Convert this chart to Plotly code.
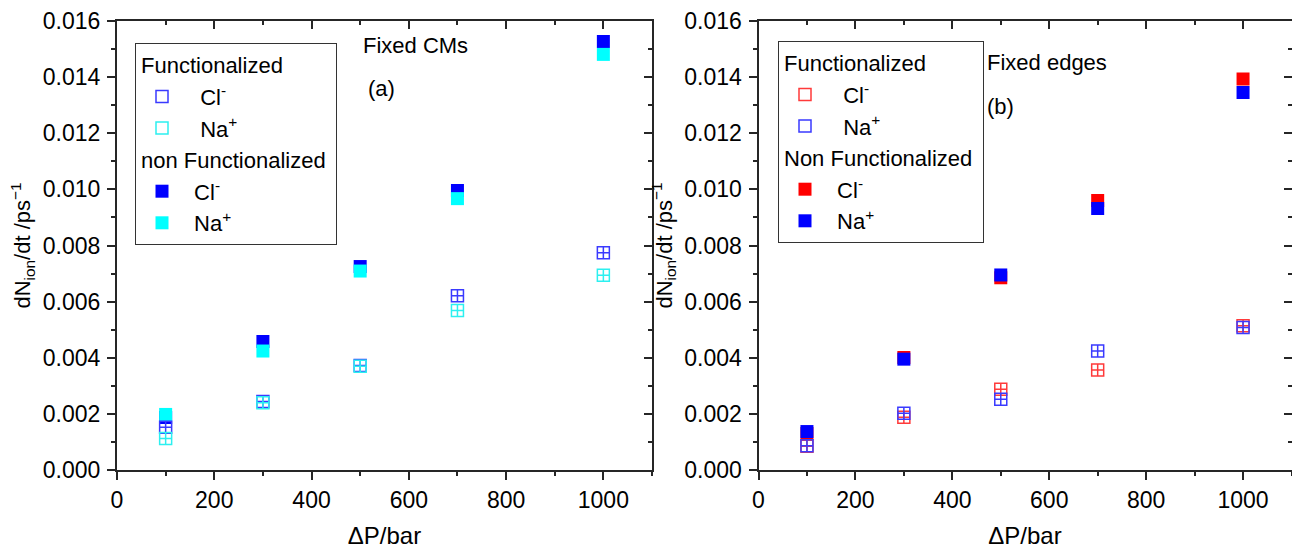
import plotly.graph_objects as go

# Pressure drop across the membrane (bar)
pressure = [100, 300, 500, 700, 1000]

# Panel (a): fixed CMs, ion flux dN/dt (1/ps)
cm_func_cl = [0.00152, 0.00244, 0.00372, 0.00621, 0.00774]
cm_func_na = [0.00112, 0.00240, 0.00370, 0.00568, 0.00694]
cm_nonfunc_cl = [0.00187, 0.00458, 0.00725, 0.00996, 0.01527]
cm_nonfunc_na = [0.00198, 0.00424, 0.00709, 0.00967, 0.01481]

# Panel (b): fixed edges, ion flux dN/dt (1/ps)
edge_func_cl = [0.00085, 0.00188, 0.00288, 0.00356, 0.00514]
edge_func_na = [0.00086, 0.00202, 0.00252, 0.00424, 0.00508]
edge_nonfunc_cl = [0.00130, 0.00401, 0.00685, 0.00960, 0.01393]
edge_nonfunc_na = [0.00137, 0.00395, 0.00695, 0.00932, 0.01345]

x_ticks = [0, 200, 400, 600, 800, 1000]
y_ticks = [0.000, 0.002, 0.004, 0.006, 0.008, 0.010, 0.012, 0.014, 0.016]

BLUE = "#0000FF"
CYAN = "#00FFFF"
RED = "#FF0000"
BLUE_OPEN = "#3a3aff"
CYAN_OPEN = "#2cf0f0"
RED_OPEN = "#ff3a3a"

FONT = "Liberation Sans, Arial, sans-serif"
AXIS_COLOR = "#262626"
W, H = 1292, 550

fig = go.Figure()


def add_panel(xa, ya, legend, open_series, filled_series, titles):
    # filled markers (non functionalized)
    for rank, (name, vals, color) in enumerate(filled_series):
        fig.add_trace(go.Scatter(
            x=pressure, y=vals, mode="markers", xaxis=xa, yaxis=ya,
            marker=dict(symbol="square", size=13, color=color,
                        line=dict(width=0)),
            name="\u00a0" + name, legend=legend, legendgroup=legend + "nf",
            legendgrouptitle=dict(text=titles[1]), legendrank=10 + rank,
        ))
    # open markers (functionalized)
    for rank, (name, vals, color) in enumerate(open_series):
        fig.add_trace(go.Scatter(
            x=pressure, y=vals, mode="markers", xaxis=xa, yaxis=ya,
            marker=dict(symbol="square-cross-open", size=12,
                        color=color, line=dict(width=1.5, color=color)),
            showlegend=False, legendgroup=legend + "f",
        ))
        # legend key shown as a plain open square
        fig.add_trace(go.Scatter(
            x=[None], y=[None], mode="markers", xaxis=xa, yaxis=ya,
            marker=dict(symbol="square-open", size=12, color=color,
                        line=dict(width=1.5, color=color)),
            name="\u00a0\u00a0" + name, legend=legend,
            legendgroup=legend + "f",
            legendgrouptitle=dict(text=titles[0]), legendrank=1 + rank,
        ))


CL = "Cl<sup>-</sup>"
NA = "Na<sup>+</sup>"

add_panel("x", "y", "legend",
          [(CL, cm_func_cl, BLUE_OPEN), (NA, cm_func_na, CYAN_OPEN)],
          [(CL, cm_nonfunc_cl, BLUE), (NA, cm_nonfunc_na, CYAN)],
          ("Functionalized", "non Functionalized"))
add_panel("x2", "y2", "legend2",
          [(CL, edge_func_cl, RED_OPEN), (NA, edge_func_na, BLUE_OPEN)],
          [(CL, edge_nonfunc_cl, RED), (NA, edge_nonfunc_na, BLUE)],
          ("Functionalized", "Non Functionalized"))

# mirror axes (top and right) with inward ticks
for xa, ya in (("x3", "y3"), ("x4", "y4")):
    fig.add_trace(go.Scatter(x=[None], y=[None], xaxis=xa, yaxis=ya,
                             showlegend=False, hoverinfo="skip"))

x_range = [0, 1100]
y_range = [0, 0.016]
y_dom = [80 / H, 529 / H]
x_dom_a = [117 / W, 652 / W]
x_dom_b = [758.5 / W, 1291.5 / W]

tickfont = dict(family=FONT, size=23, color="black")
xtitlefont = dict(family=FONT, size=24, color="black")
ytitlefont = dict(family=FONT, size=22, color="black")


def x_axis(domain, **kw):
    return dict(domain=domain, range=x_range, tickvals=x_ticks,
                ticks="outside", ticklen=8, tickwidth=2,
                tickcolor=AXIS_COLOR, showline=True, linewidth=2,
                linecolor=AXIS_COLOR, showgrid=False, zeroline=False,
                tickfont=tickfont, automargin=False,
                minor=dict(dtick=100, tick0=0, ticks="outside", ticklen=4,
                           tickwidth=1.5, tickcolor=AXIS_COLOR),
                title=dict(text="\u0394P/bar", font=xtitlefont, standoff=16),
                **kw)


def y_axis(domain, **kw):
    return dict(domain=domain, range=y_range, tickvals=y_ticks,
                tickformat=".3f", ticks="outside", ticklen=8, tickwidth=2,
                tickcolor=AXIS_COLOR, showline=True, linewidth=2,
                linecolor=AXIS_COLOR, showgrid=False, zeroline=False,
                tickfont=tickfont, ticklabelstandoff=2, automargin=False,
                minor=dict(dtick=0.001, tick0=0, ticks="outside", ticklen=4,
                           tickwidth=1.5, tickcolor=AXIS_COLOR),
                title=dict(text="dN<sub>ion</sub>/dt /ps<sup>\u22121</sup>",
                           font=ytitlefont, standoff=6),
                **kw)


def top_axis(base, anchor):
    return dict(overlaying=base, side="top", anchor=anchor, range=x_range,
                tickvals=x_ticks, ticks="inside", ticklen=8, tickwidth=2,
                tickcolor=AXIS_COLOR, showline=True, linewidth=2,
                linecolor=AXIS_COLOR, showgrid=False, zeroline=False,
                showticklabels=False, automargin=False,
                minor=dict(dtick=100, tick0=0, ticks="inside", ticklen=4,
                           tickwidth=1.5, tickcolor=AXIS_COLOR))


def right_axis(base, anchor):
    return dict(overlaying=base, side="right", anchor=anchor, range=y_range,
                tickvals=y_ticks, ticks="inside", ticklen=8, tickwidth=2,
                tickcolor=AXIS_COLOR, showline=True, linewidth=2,
                linecolor=AXIS_COLOR, showgrid=False, zeroline=False,
                showticklabels=False, automargin=False,
                minor=dict(dtick=0.001, tick0=0, ticks="inside", ticklen=4,
                           tickwidth=1.5, tickcolor=AXIS_COLOR))


def legend_box(left_px, top_px):
    return dict(x=left_px / W, y=1 - top_px / H, xanchor="left",
                yanchor="top", bgcolor="white", bordercolor="#333333",
                borderwidth=1, font=dict(family=FONT, size=22, color="black"),
                grouptitlefont=dict(family=FONT, size=22, color="black"),
                itemwidth=42, tracegroupgap=0, traceorder="grouped",
                itemclick=False, itemdoubleclick=False)


def note(text, cx, cy, size=22):
    return dict(text=text, x=cx / W, y=1 - cy / H, xref="paper",
                yref="paper", showarrow=False, xanchor="center",
                yanchor="middle", font=dict(family=FONT, size=size,
                                            color="black"))


fig.update_layout(
    width=W, height=H,
    margin=dict(l=0, r=0, t=0, b=0, autoexpand=False),
    paper_bgcolor="white", plot_bgcolor="white",
    font=dict(family=FONT, color="black"),
    xaxis=x_axis(x_dom_a, anchor="y"),
    yaxis=y_axis(y_dom, anchor="x"),
    xaxis2=x_axis(x_dom_b, anchor="y2"),
    yaxis2=y_axis(y_dom, anchor="x2"),
    xaxis3=top_axis("x", "y"),
    yaxis3=right_axis("y", "x"),
    xaxis4=top_axis("x2", "y2"),
    yaxis4=right_axis("y2", "x2"),
    legend=legend_box(135, 43),
    legend2=legend_box(778, 41),
    annotations=[
        note("Fixed CMs", 415, 46),
        note("(a)", 381, 88),
        note("Fixed edges", 1047, 63),
        note("(b)", 1001, 106),
    ],
    showlegend=True,
)

fig.write_html("out.html")
